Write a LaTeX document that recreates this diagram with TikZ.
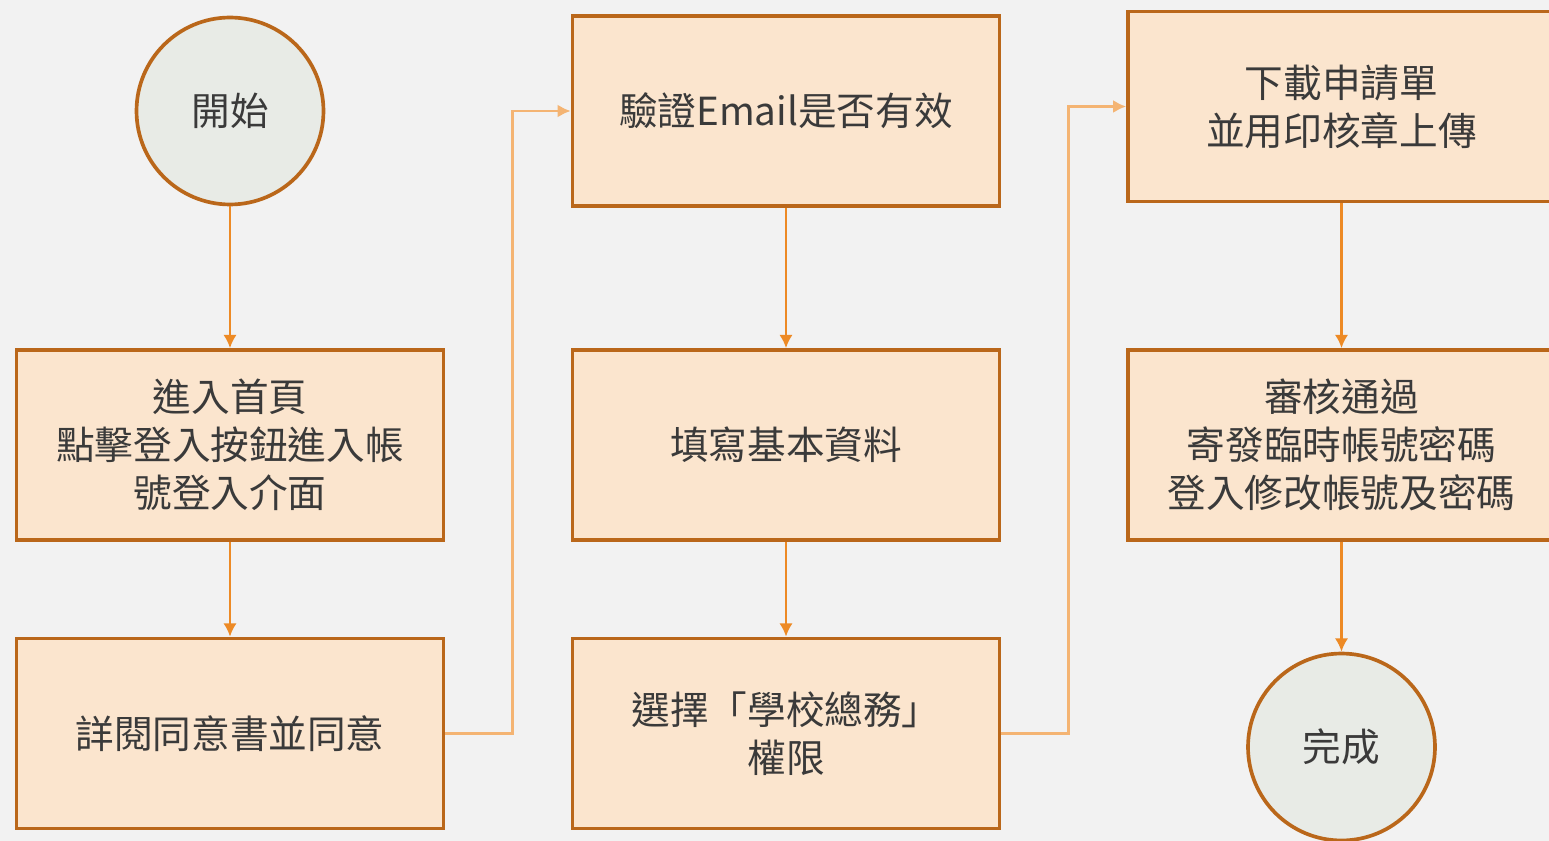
\documentclass[tikz,border=0pt]{standalone}
\usepackage{fontspec}
\setmainfont{Noto Sans CJK TC}
\usepackage{xcolor}
\usetikzlibrary{arrows.meta}

\definecolor{bgc}{HTML}{F2F2F2}
\definecolor{boxline}{HTML}{BA671A}
\definecolor{boxfill}{HTML}{FBE5CE}
\definecolor{circfill}{HTML}{E8EBE6}
\definecolor{arrowc}{HTML}{ED8A25}
\definecolor{elbowc}{HTML}{F4B473}
\definecolor{txt}{HTML}{3A3A3A}

\tikzset{
  box/.style={draw=boxline, line width=2.1pt, fill=boxfill, text=txt,
    minimum width=8.54cm, minimum height=3.8cm, align=center,
    font=\fontsize{22}{27.3}\selectfont, inner sep=0pt},
  circ/.style={circle, draw=boxline, line width=2.1pt, fill=circfill, text=txt,
    minimum size=3.74cm, font=\fontsize{22}{27.3}\selectfont, inner sep=0pt},
  flow/.style={>={Latex[length=7.5pt,width=7.5pt]}, ->, draw=arrowc, line width=1.4pt},
  elbow/.style={>={Latex[length=7.5pt,width=7.5pt]}, ->, draw=elbowc, line width=1.5pt}
}

\begin{document}
\begin{tikzpicture}[x=0.02cm, y=-0.02cm]

\fill[bgc] (0,0) rectangle (1549,841);
\useasboundingbox (0,0) rectangle (1549,841);
\clip (0,0) rectangle (1549,841);

% first column
\node[circ] (start) at (230,111) {開始};
\node[box] (login) at (230,445) {進入首頁\\點擊登入按鈕進入帳\\號登入介面};
\node[box] (agree) at (230,733.5) {詳閱同意書並同意};

% second column
\node[box] (verify) at (786,111) {驗證Email是否有效};
\node[box] (fill) at (786,445) {填寫基本資料};
\node[box] (role) at (786,733.5) {選擇「學校總務」\\權限};

% third column
\node[box] (upload) at (1341.5,106.5) {下載申請單\\並用印核章上傳};
\node[box] (review) at (1341.5,445) {審核通過\\寄發臨時帳號密碼\\登入修改帳號及密碼};
\node[circ] (done) at (1341.5,747) {完成};

\draw[flow] (start) -- (login);
\draw[flow] (login) -- (agree);
\draw[elbow] (agree.east) -- ++(67,0) |- (verify.west);

\draw[flow] (verify) -- (fill);
\draw[flow] (fill) -- (role);
\draw[elbow] (role.east) -- ++(67,0) |- (upload.west);

\draw[flow] (upload) -- (review);
\draw[flow] (review) -- (done);

\end{tikzpicture}
\end{document}
